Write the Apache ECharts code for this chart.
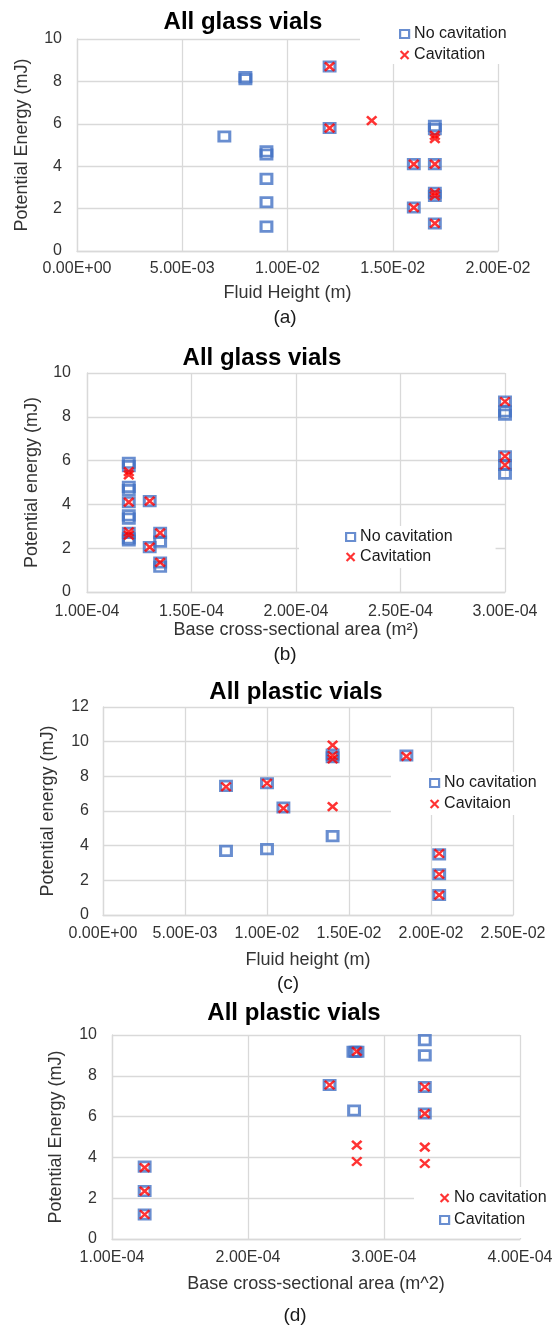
<!DOCTYPE html>
<html>
<head>
<meta charset="utf-8">
<title>Potential energy vs vial geometry</title>
<script src="https://cdn.jsdelivr.net/npm/echarts@6/dist/echarts.min.js"></script>
<style>
    html, body { margin: 0; padding: 0; background: #fff; }
    #chart { width: 556px; height: 1327px; }
</style>
</head>
<body>
<div id="chart"></div>
<script>
// (a) glass vials, fluid height (m) vs potential energy (mJ)
var glassHeightNoCav = [[0.007, 5.4], [0.008, 8.1], [0.008, 8.2], [0.009, 4.7], [0.009, 4.55], [0.009, 3.4],
    [0.009, 2.3], [0.009, 1.15], [0.012, 8.7], [0.012, 5.8], [0.016, 4.1], [0.016, 2.05],
    [0.017, 5.9], [0.017, 5.75], [0.017, 4.1], [0.017, 2.75], [0.017, 2.6], [0.017, 1.3]];
var glassHeightCav = [[0.012, 8.7], [0.012, 5.8], [0.014, 6.15], [0.016, 4.1], [0.016, 2.05],
    [0.017, 5.45], [0.017, 5.3], [0.017, 4.1], [0.017, 2.75], [0.017, 2.6], [0.017, 1.3]];

// (b) glass vials, base area (m2)
var glassAreaNoCav = [[1.2e-4, 5.9], [1.2e-4, 5.75], [1.2e-4, 4.8], [1.2e-4, 4.65], [1.2e-4, 4.1], [1.2e-4, 3.5],
    [1.2e-4, 3.35], [1.2e-4, 2.7], [1.2e-4, 2.45], [1.2e-4, 2.35], [1.3e-4, 4.15], [1.3e-4, 2.05],
    [1.35e-4, 2.7], [1.35e-4, 2.3], [1.35e-4, 1.35], [1.35e-4, 1.15],
    [3.0e-4, 8.7], [3.0e-4, 8.25], [3.0e-4, 8.1], [3.0e-4, 6.2], [3.0e-4, 5.8], [3.0e-4, 5.4]];
var glassAreaCav = [[1.2e-4, 5.5], [1.2e-4, 5.35], [1.2e-4, 4.1], [1.2e-4, 2.75], [1.2e-4, 2.6],
    [1.3e-4, 4.15], [1.3e-4, 2.05], [1.35e-4, 2.7], [1.35e-4, 1.35],
    [3.0e-4, 8.7], [3.0e-4, 6.2], [3.0e-4, 5.8]];

// (c) plastic vials, fluid height (m)
var plasticHeightNoCav = [[0.0075, 7.45], [0.0075, 3.7], [0.01, 7.6], [0.01, 3.8], [0.011, 6.2],
    [0.014, 9.25], [0.014, 9.1], [0.014, 4.55], [0.0185, 9.2], [0.0205, 3.5], [0.0205, 2.35], [0.0205, 1.15]];
var plasticHeightCav = [[0.0075, 7.4], [0.01, 7.6], [0.011, 6.15], [0.014, 9.8], [0.014, 9.2], [0.014, 9.0],
    [0.014, 6.25], [0.0185, 9.15], [0.0205, 3.55], [0.0205, 2.35], [0.0205, 1.15]];

// (d) plastic vials, base area (m^2) -- legend labels are swapped in the original
var plasticAreaX = [[1.24e-4, 3.5], [1.24e-4, 2.35], [1.24e-4, 1.2], [2.6e-4, 7.55], [2.8e-4, 9.2],
    [2.8e-4, 4.6], [2.8e-4, 3.8], [3.3e-4, 7.45], [3.3e-4, 6.15], [3.3e-4, 4.5], [3.3e-4, 3.7]];
var plasticAreaSquare = [[1.24e-4, 3.55], [1.24e-4, 2.35], [1.24e-4, 1.2], [2.6e-4, 7.55], [2.775e-4, 9.18],
    [2.79e-4, 9.18], [2.805e-4, 9.18], [2.78e-4, 6.3], [3.3e-4, 9.75], [3.3e-4, 9.0], [3.3e-4, 7.45], [3.3e-4, 6.15]];

var legendText = {
    aNo: "No cavitation", aCav: "Cavitation",
    bNo: "No cavitation", bCav: "Cavitation",
    cNo: "No cavitation", cCav: "Cavitaion",
    dX: "No cavitation", dSq: "Cavitation"
};

(function() {
    var FONT = '"Liberation Sans", Arial, sans-serif',
        GRID = "#d9d9d9",
        TEXT = "#333",
        BLUE = "#4472C4",
        RED = "#FF0000",
        cross = "path://M0,0L10,10M10,0L0,10";

    function sci(v) {
        return v.toExponential(2).replace("e", "E").replace(/([+-])(\d)$/, "$10$2");
    }

    function xAxis(i, min, max, interval, name, nameGap, margin) {
        return {
            gridIndex: i, type: "value", min: min, max: max, interval: interval,
            name: name, nameLocation: "middle", nameGap: nameGap,
            nameTextStyle: { fontFamily: FONT, fontSize: 18, color: TEXT },
            axisLine: { show: true, lineStyle: { color: GRID, width: 1.3 } },
            axisTick: { show: false },
            axisLabel: { formatter: sci, margin: margin, fontFamily: FONT, fontSize: 16, color: TEXT },
            splitLine: { show: true, lineStyle: { color: GRID, width: 1.3 } }
        };
    }

    function yAxis(i, max, name, nameGap, margin) {
        return {
            gridIndex: i, type: "value", min: 0, max: max, interval: 2,
            name: name, nameLocation: "middle", nameGap: nameGap, nameRotate: 90,
            nameTextStyle: { fontFamily: FONT, fontSize: 18, color: TEXT },
            axisLine: { show: true, lineStyle: { color: GRID, width: 1.3 } },
            axisTick: { show: false },
            axisLabel: { margin: margin, fontFamily: FONT, fontSize: 16, color: TEXT },
            splitLine: { show: true, lineStyle: { color: GRID, width: 1.3 } }
        };
    }

    // the source figure is a little wider than tall, so the markers are too
    function squares(name, i, data) {
        return {
            name: name, type: "scatter", xAxisIndex: i, yAxisIndex: i, data: data,
            symbol: "rect", symbolSize: [10.8, 9.4], z: 2,
            itemStyle: { color: "rgba(255,255,255,0)", borderColor: BLUE, borderWidth: 2.9 }
        };
    }

    function crosses(name, i, data) {
        return {
            name: name, type: "scatter", xAxisIndex: i, yAxisIndex: i, data: data,
            symbol: cross, symbolSize: [9.5, 8.5], z: 3,
            itemStyle: { color: RED, borderColor: RED, borderWidth: 2.5 }
        };
    }

    function legend(names, left, top, padding, gap) {
        return {
            data: names, orient: "vertical", left: left, top: top, padding: padding,
            itemGap: gap, itemWidth: 9, itemHeight: 8, backgroundColor: "#fff",
            itemStyle: { borderWidth: 2.2 },
            formatter: function(n) { return legendText[n]; },
            textStyle: { fontFamily: FONT, fontSize: 16, color: "#1a1a1a" },
            selectedMode: false
        };
    }

    function label(text, x, y, size, weight) {
        return {
            type: "text", x: x, y: y, z: 10,
            style: {
                text: text, textAlign: "center", textVerticalAlign: "middle",
                font: (weight || "normal") + " " + size + "px " + FONT, fill: weight ? "#000" : "#1a1a1a"
            }
        };
    }

    var chart = echarts.init(document.getElementById("chart"));
    chart.setOption({
        animation: false,
        grid: [
            { left: 77, top: 39, width: 421, height: 212 },
            { left: 87, top: 373, width: 418, height: 219 },
            { left: 103, top: 707, width: 410, height: 208 },
            { left: 112, top: 1035, width: 408, height: 204 }
        ],
        xAxis: [
            xAxis(0, 0, 0.02, 0.005, "Fluid Height (m)", 33, 10),
            xAxis(1, 1e-4, 3e-4, 0.5e-4, "Base cross-sectional area (m\u00b2)", 28, 12),
            xAxis(2, 0, 0.025, 0.005, "Fluid height (m)", 36, 11),
            xAxis(3, 1e-4, 4e-4, 1e-4, "Base cross-sectional area (m^2)", 36, 11)
        ],
        yAxis: [
            yAxis(0, 10, "Potential Energy (mJ)", 46, 15),
            yAxis(1, 10, "Potential energy (mJ)", 46, 16),
            yAxis(2, 12, "Potential energy (mJ)", 46, 14),
            yAxis(3, 10, "Potential Energy (mJ)", 47, 15)
        ],
        legend: [
            legend(["aNo", "aCav"], 360, 24, [2, 6, 1, 39], 5),
            legend(["bNo", "bCav"], 299, 526, [3, 43, 3, 46], 4),
            legend(["cNo", "cCav"], 391, 772, [3, 4, 3, 38], 5),
            legend(["dX", "dSq"], 414, 1187, [3, 4, 10, 25], 6)
        ],
        graphic: [
            label("All glass vials", 243, 22, 24, "bold"),
            label("(a)", 285, 318, 19),
            label("All glass vials", 262, 358, 24, "bold"),
            label("(b)", 285, 655, 19),
            label("All plastic vials", 296, 692, 24, "bold"),
            label("(c)", 288, 984, 19),
            label("All plastic vials", 294, 1013, 24, "bold"),
            label("(d)", 295, 1316, 19)
        ],
        series: [
            squares("aNo", 0, glassHeightNoCav),
            crosses("aCav", 0, glassHeightCav),
            squares("bNo", 1, glassAreaNoCav),
            crosses("bCav", 1, glassAreaCav),
            squares("cNo", 2, plasticHeightNoCav),
            crosses("cCav", 2, plasticHeightCav),
            crosses("dX", 3, plasticAreaX),
            squares("dSq", 3, plasticAreaSquare)
        ]
    });
}());
</script>
</body>
</html>
